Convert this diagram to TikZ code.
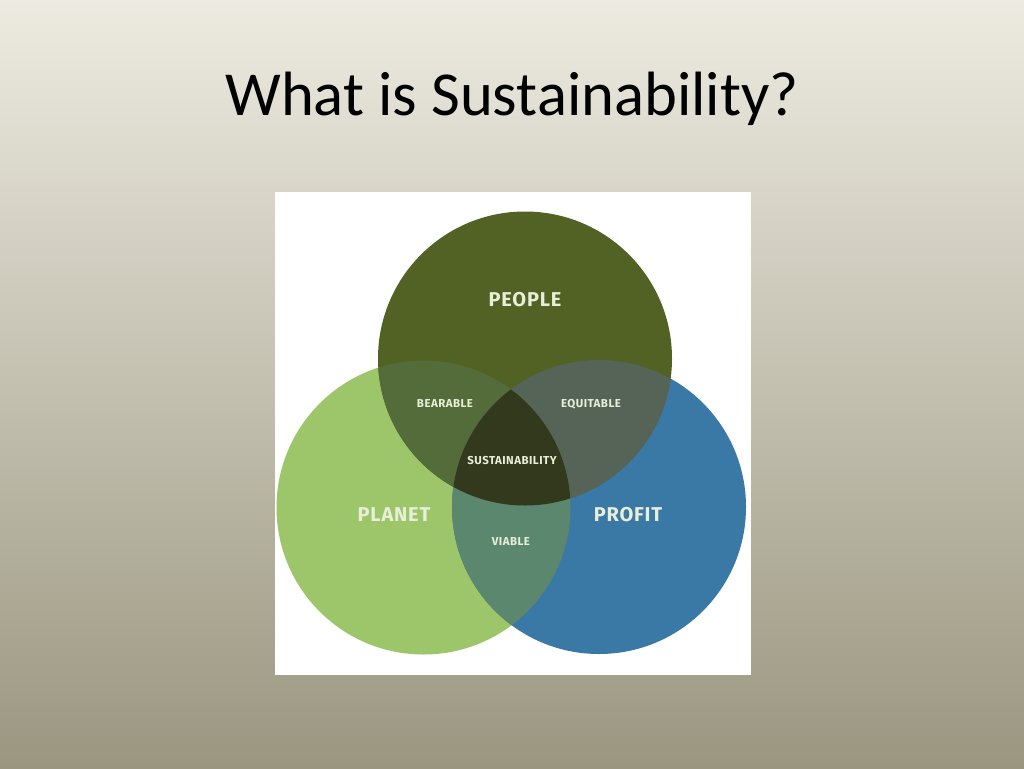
\documentclass[tikz,border=0pt]{standalone}
\usepackage{fontspec}
\setmainfont{Carlito}
\newfontfamily\venfont{Fira Sans}[LetterSpace=4]
\definecolor{bgtop}{RGB}{237,235,225}
\definecolor{bgbot}{RGB}{154,150,128}
\definecolor{peoplec}{RGB}{82,97,36}
\definecolor{planetc}{RGB}{157,197,106}
\definecolor{profitc}{RGB}{58,120,165}
\definecolor{bearc}{RGB}{83,108,57}
\definecolor{equitc}{RGB}{86,100,88}
\definecolor{viabc}{RGB}{90,135,110}
\definecolor{sustc}{RGB}{51,57,28}
\definecolor{labc}{RGB}{232,238,215}
\tikzset{
  biglab/.style={inner sep=0pt, text=labc, font=\venfont\bfseries\fontsize{20}{20}\selectfont},
  smalllab/.style={inner sep=0pt, text=labc, font=\venfont\bfseries\fontsize{11.5}{11.5}\selectfont},
}
\begin{document}
\begin{tikzpicture}[x=1pt,y=-1pt]
\useasboundingbox (0,0) rectangle (1024,768);
\shade[top color=bgtop, bottom color=bgbot] (0,0) rectangle (1024,768);
\node[anchor=base, inner sep=0pt, font=\fontsize{62.6}{62.6}\selectfont] (title) at (512,115) {What is Sustainability?};
\fill[white] (275,192) rectangle (751,675);
\coordinate (people) at (525,358.5);
\coordinate (planet) at (423.5,507.5);
\coordinate (profit) at (599,507);
\def\rr{147pt}
\fill[planetc] (planet) circle[radius=\rr];
\fill[profitc] (profit) circle[radius=\rr];
\fill[peoplec] (people) circle[radius=\rr];
\begin{scope}
  \clip (people) circle[radius=\rr];
  \fill[bearc] (planet) circle[radius=\rr];
  \fill[equitc] (profit) circle[radius=\rr];
\end{scope}
\begin{scope}
  \clip (planet) circle[radius=\rr];
  \fill[viabc] (profit) circle[radius=\rr];
  \clip (profit) circle[radius=\rr];
  \fill[sustc] (people) circle[radius=\rr];
\end{scope}
\node[biglab] (lpeople) at (525,300) {PEOPLE};
\node[biglab] (lplanet) at (394,515) {PLANET};
\node[biglab] (lprofit) at (628,515) {PROFIT};
\node[smalllab] (lbear) at (445,404) {BEARABLE};
\node[smalllab] (lequit) at (591,404) {EQUITABLE};
\node[smalllab] (lsust) at (512,461) {SUSTAINABILITY};
\node[smalllab] (lviab) at (511,542) {VIABLE};
\end{tikzpicture}
\end{document}
